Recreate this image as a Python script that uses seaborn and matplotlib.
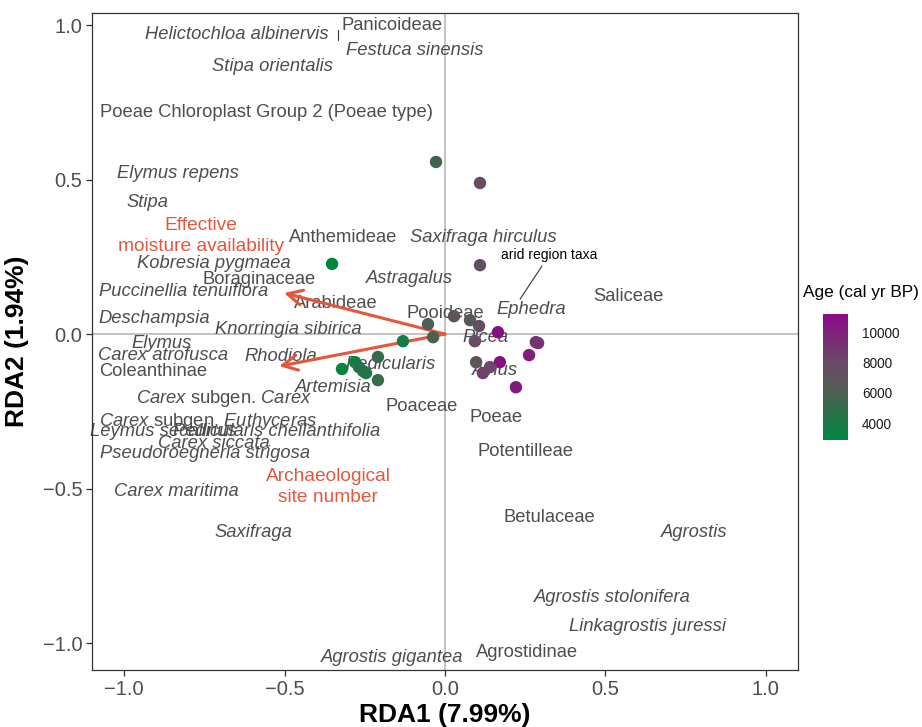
import matplotlib
matplotlib.use("Agg")
import matplotlib.pyplot as plt
from matplotlib.colors import LinearSegmentedColormap, Normalize
from matplotlib.cm import ScalarMappable
import numpy as np
import pandas as pd
import seaborn as sns

# --- site scores (RDA1, RDA2) and sample age --------------------------------
site_rda1 = [-0.028, 0.109, -0.352, 0.109, 0.028, 0.078, 0.106, 0.165, 0.093,
             0.283, 0.290, 0.262, 0.171, 0.097, 0.140, 0.118, 0.221, -0.053,
             -0.037, -0.131, -0.209, -0.321, -0.280, -0.268, -0.255, -0.246,
             -0.209]
site_rda2 = [0.557, 0.489, 0.227, 0.223, 0.058, 0.045, 0.026, 0.006, -0.023,
             -0.026, -0.029, -0.068, -0.091, -0.091, -0.107, -0.126, -0.172,
             0.032, -0.010, -0.023, -0.074, -0.113, -0.091, -0.107, -0.120,
             -0.126, -0.149]
site_age = [5500, 7700, 3100, 7500, 7000, 6300, 7500, 11000, 7700,
            9300, 9200, 10300, 10800, 7000, 8000, 8500, 10500, 6200,
            5800, 3800, 5200, 3100, 3300, 4800, 4600, 4300,
            5200]

# --- environmental vectors ---------------------------------------------------
env_names = ["Effective\nmoisture availability", "Archaeological\nsite number"]
env_rda1 = [-0.502, -0.517]
env_rda2 = [0.133, -0.104]
env_label_rda1 = [-0.760, -0.364]
env_label_rda2 = [0.317, -0.495]

# --- taxa scores ---------------------------------------------------------------
taxa_names = [
    "Helictochloa albinervis", "Panicoideae", "Festuca sinensis",
    "Stipa orientalis", "Poeae Chloroplast Group 2 (Poeae type)",
    "Elymus repens", "Stipa", "Anthemideae", "Saxifraga hirculus",
    "Kobresia pygmaea", "Boraginaceae", "Astragalus",
    "Puccinellia tenuiflora", "Arabideae", "Deschampsia", "Pooideae",
    "Ephedra", "Saliceae", "Knorringia sibirica", "Picea", "Elymus",
    "Carex atrofusca", "Rhodiola", "Pedicularis", "Coleanthinae", "Alnus",
    "Artemisia", r"$\mathit{Carex}$ subgen. $\mathit{Carex}$", "Poaceae",
    "Poeae", r"$\mathit{Carex}$ subgen. $\mathit{Euthyceras}$",
    "Leymus secalinus", "Pedicularis cheilanthifolia", "Carex siccata",
    "Pseudoroegneria strigosa", "Potentilleae", "Carex maritima",
    "Betulaceae", "Saxifraga", "Agrostis", "Agrostis stolonifera",
    "Linkagrostis juressi", "Agrostidinae", "Agrostis gigantea",
]
taxa_rda1 = [
    -0.648, -0.165, -0.093, -0.539, -0.555, -0.832, -0.928, -0.318, 0.118,
    -0.720, -0.579, -0.112, -0.816, -0.340, -0.907, 0.000, 0.268, 0.570,
    -0.489, 0.125, -0.882, -0.879, -0.511, -0.171, -0.910, 0.156, -0.349,
    -0.688, -0.072, 0.159, -0.738, -0.878, -0.525, -0.720, -0.748, 0.252,
    -0.838, 0.324, -0.598, 0.776, 0.523, 0.632, 0.255, -0.165,
]
taxa_rda2 = [
    0.968, 1.000, 0.919, 0.867, 0.718, 0.521, 0.427, 0.314, 0.314,
    0.227, 0.178, 0.181, 0.139, 0.100, 0.049, 0.068, 0.081, 0.123,
    0.016, -0.010, -0.029, -0.068, -0.074, -0.097, -0.120, -0.117, -0.172,
    -0.210, -0.233, -0.269, -0.282, -0.314, -0.314, -0.353, -0.385, -0.379,
    -0.508, -0.595, -0.641, -0.641, -0.854, -0.945, -1.029, -1.045,
]
taxa_italic = [
    True, False, True, True, False, True, True, False, True,
    True, False, True, True, False, True, False, True, False,
    True, True, True, True, True, True, False, True, True,
    False, False, False, False, True, True, True, True, False,
    True, False, True, True, True, True, False, True,
]

# --- group annotation ----------------------------------------------------------
note_text = "arid region taxa"
note_rda1, note_rda2 = 0.324, 0.256
leader_rda1 = [[0.302, 0.234], [-0.333, -0.333]]
leader_rda2 = [[0.220, 0.113], [0.984, 0.951]]

# --- styling -------------------------------------------------------------------
sns.set_theme(style="white")
plt.rcParams["font.family"] = ["Liberation Sans", "DejaVu Sans"]
plt.rcParams["mathtext.fontset"] = "custom"
plt.rcParams["mathtext.rm"] = "Liberation Sans"
plt.rcParams["mathtext.it"] = "Liberation Sans:italic"

age_cmap = LinearSegmentedColormap.from_list(
    "age", [(0.0, "#00873f"), (0.42, "#555a55"), (0.62, "#6a4a68"), (1.0, "#8b0a85")])
age_norm = Normalize(vmin=2900, vmax=11200)
arrow_col = "#e4573d"
label_col = "#4d4d4d"

sites = pd.DataFrame({"RDA1": site_rda1, "RDA2": site_rda2, "Age": site_age})

fig = plt.figure(figsize=(9.22, 7.27), dpi=100)
ax = fig.add_axes([92 / 922, 1 - 670 / 727, 706 / 922, 657 / 727])
cax = fig.add_axes([823 / 922, 1 - 440 / 727, 25 / 922, 126 / 727])

ax.axhline(0, color="#bebebe", lw=1.3, zorder=1)
ax.axvline(0, color="#bebebe", lw=1.3, zorder=1)

for name, x, y, it in zip(taxa_names, taxa_rda1, taxa_rda2, taxa_italic):
    ax.text(x, y, name, ha="center", va="center", fontsize=13.2,
            color=label_col, style="italic" if it else "normal", zorder=2)

ax.text(note_rda1, note_rda2, note_text, ha="center", va="center",
        fontsize=10, color="black", zorder=2)
for lx, ly in zip(leader_rda1, leader_rda2):
    ax.plot(lx, ly, color="#333333", lw=0.8, zorder=2)

for x, y in zip(env_rda1, env_rda2):
    ax.annotate("", xy=(x, y), xytext=(0, 0),
                arrowprops=dict(arrowstyle="->,head_length=0.9,head_width=0.45",
                                color=arrow_col, lw=2.2, shrinkA=0, shrinkB=0),
                zorder=3)
for name, x, y in zip(env_names, env_label_rda1, env_label_rda2):
    ax.text(x, y, name, ha="center", va="center", fontsize=13.8,
            color=arrow_col, linespacing=1.25, zorder=3)

sns.scatterplot(data=sites, x="RDA1", y="RDA2", hue="Age", palette=age_cmap,
                hue_norm=age_norm, s=80, linewidth=0, legend=False, ax=ax,
                zorder=4)

ax.set_xlim(-1.1, 1.1)
ax.set_ylim(-1.087, 1.039)
ax.set_xticks([-1.0, -0.5, 0.0, 0.5, 1.0])
ax.set_yticks([-1.0, -0.5, 0.0, 0.5, 1.0])
ax.tick_params(axis="both", which="major", direction="out", length=4, width=0.9,
               color="#333333", labelsize=14.5, labelcolor="#4d4d4d",
               bottom=True, left=True, pad=3)
for sp in ax.spines.values():
    sp.set_color("#333333")
    sp.set_linewidth(0.9)
ax.grid(False)

title_font = dict(family=["Liberation Sans", "DejaVu Sans"],
                  weight="bold", size=19, color="black")
ax.set_xlabel("RDA1 (7.99%)", fontdict=title_font, labelpad=3)
ax.set_ylabel("RDA2 (1.94%)", fontdict=title_font, labelpad=10)

cb = fig.colorbar(ScalarMappable(norm=age_norm, cmap=age_cmap), cax=cax)
cb.outline.set_visible(False)
cb.set_ticks([4000, 6000, 8000, 10000])
cax.tick_params(which="major", direction="in", length=5, width=1,
                color="white", left=True, right=True, labelsize=9.8,
                labelcolor="#1a1a1a", pad=10)
cax.tick_params(which="minor", left=False, right=False)
fig.text(803 / 922, 1 - 293 / 727, "Age (cal yr BP)", fontsize=12.4,
         color="black", ha="left", va="center")

fig.savefig("out.png", dpi=100)
